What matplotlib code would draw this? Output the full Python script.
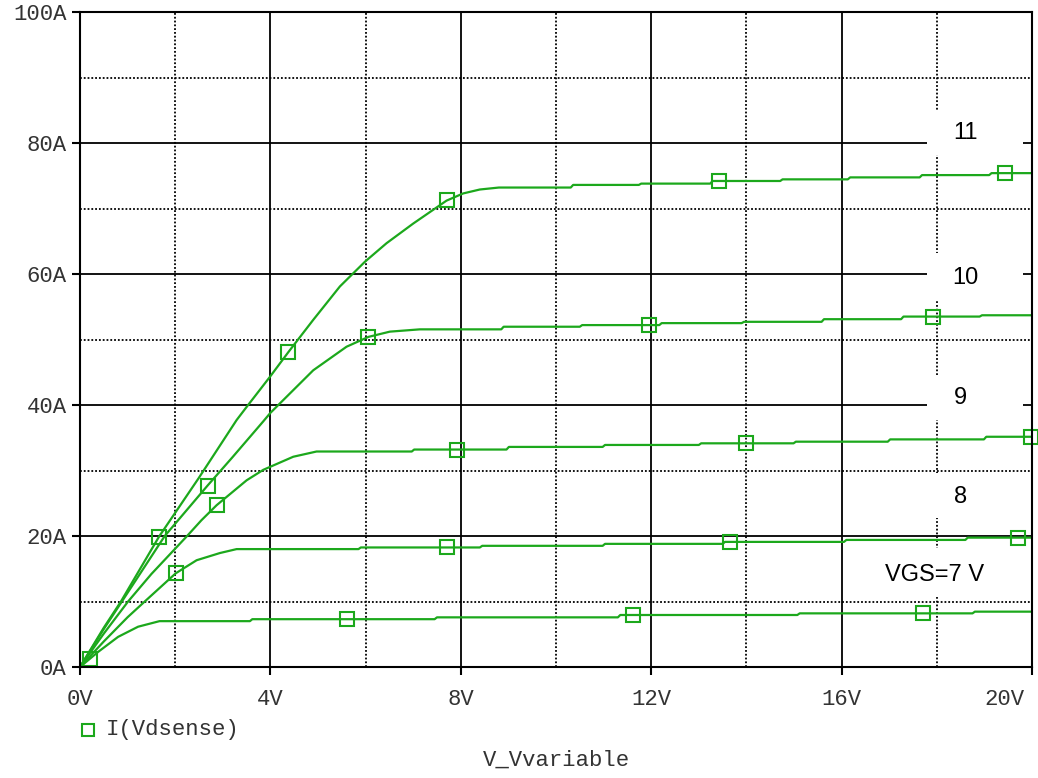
import matplotlib
matplotlib.use("Agg")
import matplotlib.pyplot as plt
import matplotlib.transforms as mtransforms
import numpy as np
from matplotlib.lines import Line2D
from matplotlib.patches import Rectangle

# Id-Vds family.  Each curve is a smooth rising
# part followed by the small staircase steps PSpice draws in saturation.
vgs_labels = ["VGS=7 V", "8", "9", "10", "11"]

rise_v = {
    7: [0, 0.38, 0.80, 1.22, 1.67],
    8: [0, 0.5, 1.0, 1.36, 2.01, 2.45, 2.94, 3.29],
    9: [0, 0.5, 1.01, 1.5, 2.25, 2.55, 2.87, 3.5, 3.85, 4.48, 4.97],
    10: [0, 0.5, 0.88, 1.78, 2.68, 3.2, 3.85, 4.0, 4.9, 5.6, 6.06, 6.51, 7.14],
    11: [0, 0.5, 0.86, 1.66, 2.49, 3.29, 3.5, 3.99, 4.38, 4.9, 5.46, 5.99,
         6.44, 7.0, 7.7, 8.05, 8.4, 8.8],
}
rise_i = {
    7: [0, 2.3, 4.6, 6.15, 7.0],
    8: [0, 3.9, 7.6, 10.0, 14.3, 16.3, 17.4, 18.0],
    9: [0, 5.1, 10.0, 14.2, 20.0, 22.4, 24.7, 28.5, 30.1, 32.1, 32.9],
    10: [0, 5.8, 10.0, 20.0, 27.7, 32.0, 37.5, 38.8, 45.3, 48.9, 50.4, 51.2, 51.55],
    11: [0, 6.0, 10.0, 19.9, 28.8, 37.7, 39.7, 44.3, 48.1, 53.0, 58.1, 61.9,
         64.7, 67.7, 71.2, 72.3, 72.9, 73.2],
}
# where each saturation step happens and the level after it
step_v = {
    7: [3.57, 7.45, 11.3, 15.07, 18.75],
    8: [5.85, 8.4, 10.98, 13.5, 16.05, 18.6],
    9: [6.97, 8.96, 10.98, 13.0, 14.99, 16.97, 18.99],
    10: [8.85, 10.5, 12.17, 13.9, 15.58, 17.25, 18.9],
    11: [10.31, 11.74, 13.24, 14.71, 16.13, 17.64, 19.1],
}
step_i = {
    7: [7.3, 7.58, 7.94, 8.19, 8.45],
    8: [18.25, 18.5, 18.8, 19.1, 19.4, 19.75],
    9: [33.2, 33.6, 33.9, 34.15, 34.4, 34.75, 35.15],
    10: [51.95, 52.2, 52.5, 52.7, 53.1, 53.5, 53.7],
    11: [73.6, 73.8, 74.2, 74.45, 74.75, 75.1, 75.4],
}
marker_v = {
    7: [0.2, 5.6, 11.62, 17.7],
    8: [2.01, 7.7, 13.65, 19.7],
    9: [2.87, 7.93, 14.0, 19.98],
    10: [2.68, 6.06, 11.95, 17.92],
    11: [1.66, 4.38, 7.72, 13.43, 19.43],
}

x_major = [0, 4, 8, 12, 16, 20]
x_minor = [2, 6, 10, 14, 18]
y_major = [0, 20, 40, 60, 80, 100]
y_minor = [10, 30, 50, 70, 90]
x_ticklabels = ["0V", "4V", "8V", "12V", "16V", "20V"]
y_ticklabels = ["0A", "20A", "40A", "60A", "80A", "100A"]

GREEN = "#1ca81c"
W, H = 1038, 778


def build_curve(rv, ri, sv, si, v_end=20.0, jog=0.05):
    v = list(rv)
    i = list(ri)
    level = ri[-1]
    for s, lv in zip(sv, si):
        v += [s, s + jog]
        i += [level, lv]
        level = lv
    v.append(v_end)
    i.append(level)
    return np.array(v), np.array(i)


fig = plt.figure(figsize=(W / 100, H / 100), dpi=100)
ax = fig.add_axes([80 / W, 1 - 667 / H, (1032 - 80) / W, (667 - 12) / H])

ax.set_xlim(0, 20)
ax.set_ylim(0, 100)

# grid: solid at major, dotted at minor
for xv in x_major[1:-1]:
    ax.axvline(xv, color="black", lw=1.3, zorder=1)
for xv in x_minor:
    ax.axvline(xv, color="black", lw=1.3, ls=(0, (1, 1.1)), zorder=1)
for yv in y_major[1:-1]:
    ax.axhline(yv, color="black", lw=1.3, zorder=1)
for yv in y_minor:
    ax.axhline(yv, color="black", lw=1.3, ls=(0, (1, 1.1)), zorder=1)

# white boxes behind the curve labels (they hide the grid)
label_boxes = [
    (17.79, 10.7, 2.1, 7.5),
    (17.79, 22.7, 2.02, 6.9),
    (17.79, 37.7, 2.02, 6.9),
    (17.79, 56.0, 2.02, 7.2),
    (17.79, 78.2, 2.02, 6.9),
]
label_pos = [(17.96, 14.0), (18.49, 26.0), (18.49, 41.1), (18.61, 59.4), (18.61, 81.5)]
for (bx, by, bw, bh), (tx, ty), txt in zip(label_boxes, label_pos, vgs_labels):
    ax.add_patch(Rectangle((bx, by), bw, bh, facecolor="white",
                           edgecolor="none", zorder=2))
    ax.text(tx, ty, txt, ha="center", va="center", fontsize=17,
            family="Liberation Sans", color="black", zorder=3)

for vgs in [7, 8, 9, 10, 11]:
    v, i = build_curve(rise_v[vgs], rise_i[vgs], step_v[vgs], step_i[vgs])
    ax.plot(v, i, color=GREEN, lw=1.6, zorder=4)
    mv = np.array(marker_v[vgs])
    ax.plot(mv, np.interp(mv, v, i), ls="none", marker="s", ms=10,
            mfc="none", mec=GREEN, mew=1.5, zorder=5, clip_on=False)

for sp in ax.spines.values():
    sp.set_linewidth(1.5)
    sp.set_color("black")
    sp.set_zorder(6)

ax.set_xticks(x_major, x_ticklabels)
ax.set_yticks(y_major, y_ticklabels)
ax.tick_params(axis="both", direction="out", length=6, width=1.5,
               colors="black", labelcolor="#333333", labelsize=16)
ax.tick_params(axis="x", pad=10)
ax.tick_params(axis="y", pad=3.5)
for lab in ax.get_xticklabels() + ax.get_yticklabels():
    lab.set_family("Liberation Mono")

# last x label sits inside the right edge, as in the original
last = ax.get_xticklabels()[-1]
last.set_horizontalalignment("right")
last.set_transform(last.get_transform() +
                   mtransforms.ScaledTranslation(-7 / 100, 0, fig.dpi_scale_trans))

ax.set_xlabel("V_Vvariable", fontsize=16, family="Liberation Mono",
              color="#333333", va="center")
ax.xaxis.set_label_coords(0.5, (667 - 760) / 655)

# legend entry under the axes
fig.add_artist(Line2D([88 / W], [1 - 730 / H], transform=fig.transFigure,
                      marker="s", ms=9, mfc="none", mec=GREEN, mew=1.5))
fig.text(106 / W, 1 - 730 / H, "I(Vdsense)", fontsize=16,
         family="Liberation Mono", color="#333333", va="center", ha="left")

fig.savefig("out.png", dpi=100)
